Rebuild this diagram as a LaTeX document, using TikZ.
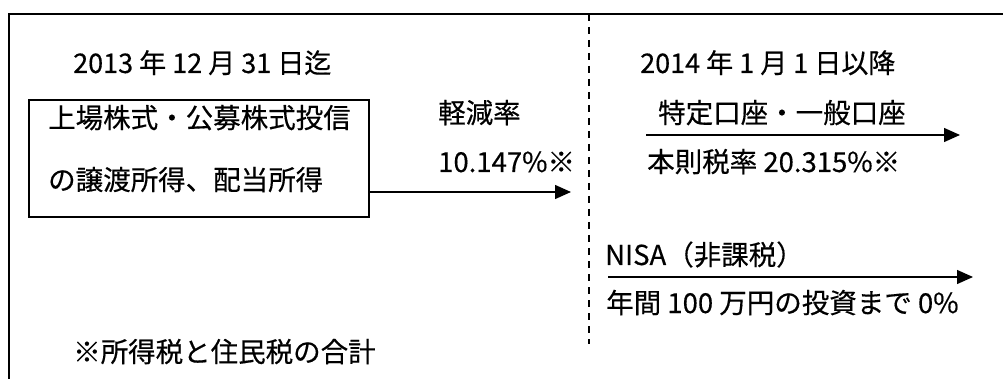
\documentclass[tikz,border=0pt]{standalone}
\usepackage{fontspec}
\setmainfont{Noto Sans CJK JP}[FakeBold=0.4]
\usetikzlibrary{arrows.meta}
\begin{document}
\begin{tikzpicture}[x=1pt,y=-1pt,
  frameline/.style={line width=1.4pt},
  srcbox/.style={draw,line width=1.2pt,minimum width=340pt,minimum height=117pt,inner sep=0pt},
  lbl/.style={anchor=base west,inner sep=0pt,font=\fontsize{27.5}{32}\selectfont},
  datelbl/.style={anchor=base west,inner sep=0pt,font=\fontsize{27}{32}\selectfont},
  flow/.style={line width=1.3pt,-{Triangle[length=16pt,width=14pt]}},
  divider/.style={line width=1.3pt,dash pattern=on 7pt off 6pt}]
\useasboundingbox (0,0) rectangle (1003,379);
% outer frame (open to the right and bottom)
\coordinate (frTR) at (1003,14);
\coordinate (frTL) at (9,14);
\coordinate (frBL) at (9,379);
\draw[frameline] (frTR) -- (frTL) -- (frBL);
% divider
\coordinate (divT) at (589,14);
\coordinate (divB) at (589,344);
\draw[divider] (divT) -- (divB);
% source box
\node[srcbox] (src) at (199,158.5) {};
\node[lbl] (srcA) at (48,128) {上場株式・公募株式投信};
\node[lbl] (srcB) at (48,190) {の譲渡所得、配当所得};
% dates
\node[datelbl] (d1) at (73,73) {2013 年 12 月 31 日迄};
\node[datelbl] (d2) at (640,73) {2014 年 1 月 1 日以降};
% arrow 1
\coordinate (a1e) at (571,192);
\draw[flow] (src.east |- a1e) -- (a1e);
\node[lbl] (r1a) at (438,123) {軽減率};
\node[lbl] (r1b) at (438,172) {10.147\%※};
% arrow 2
\coordinate (a2s) at (646,135);
\coordinate (a2e) at (960,135);
\draw[flow] (a2s) -- (a2e);
\node[lbl] (r2a) at (658,123) {特定口座・一般口座};
\node[lbl] (r2b) at (647,172) {本則税率 20.315\%※};
% arrow 3
\coordinate (a3s) at (608,277);
\coordinate (a3e) at (973,277);
\draw[flow] (a3s) -- (a3e);
\node[lbl] (r3a) at (605,265) {NISA（非課税）};
\node[lbl] (r3b) at (606,313) {年間 100 万円の投資まで 0\%};
% note
\node[lbl] (note) at (73,362) {※所得税と住民税の合計};
\end{tikzpicture}
\end{document}
